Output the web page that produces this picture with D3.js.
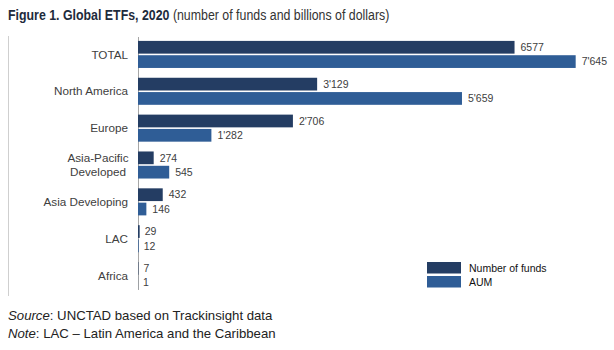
<!DOCTYPE html>
<html><head><meta charset="utf-8">
<script src="https://cdn.jsdelivr.net/npm/d3@7"></script>
<style>body{margin:0;background:#fff}svg{display:block}</style>
</head><body><svg id="c" width="614" height="350"></svg>
<script>
const categories = ["TOTAL","North America","Europe","Asia-Pacific Developed","Asia Developing","LAC","Africa"];
const fundsValues = [6577,3129,2706,274,432,29,7];
const aumValues = [7645,5659,1282,545,146,12,1];
const fundsLabels = ["6577","3'129","2'706","274","432","29","7"];
const aumLabels = ["7'645","5'659","1'282","545","146","12","1"];
const seriesNames = ["Number of funds","AUM"];
const colors = ["#243d63","#2f5d96"];

const svg = d3.select("#c");
const font = "'Liberation Sans', Arial, sans-serif";
const narrow = "'Liberation Sans Narrow','Arial Narrow','Liberation Sans',Arial,sans-serif";

// title (horizontally condensed to mimic a narrow face)
const title = svg.append("text").attr("transform","translate(8,20) scale(0.853,1)")
  .attr("font-family",narrow).attr("font-size",14.5);
title.append("tspan").attr("font-weight","bold").attr("fill","#1e2b3c").text("Figure 1. Global ETFs, 2020");
title.append("tspan").attr("fill","#333").text(" (number of funds and billions of dollars)");

// frame left line
svg.append("line").attr("x1",8.5).attr("x2",8.5).attr("y1",36).attr("y2",296).attr("stroke","#cfcfcf").attr("stroke-width",1);

const x = d3.scaleLinear().domain([0,8000]).range([138,596]);
const y0 = d3.scaleBand().domain(categories).range([36,294]).paddingInner(0.266).paddingOuter(0.133);
const y1 = d3.scaleBand().domain(seriesNames).range([0,y0.bandwidth()]).paddingInner(0.11);

const data = categories.map((c,i)=>({cat:c, vals:[
  {s:seriesNames[0], v:fundsValues[i], lab:fundsLabels[i], col:colors[0]},
  {s:seriesNames[1], v:aumValues[i], lab:aumLabels[i], col:colors[1]}]}));

// axis line
svg.append("line").attr("x1",138.5).attr("x2",138.5).attr("y1",37).attr("y2",290).attr("stroke","#a6a6a6").attr("stroke-width",1);

const g = svg.selectAll("g.grp").data(data).join("g").attr("class","grp")
  .attr("transform",d=>`translate(0,${y0(d.cat)})`);
g.selectAll("rect").data(d=>d.vals).join("rect")
  .attr("x",x(0)).attr("y",d=>y1(d.s)).attr("width",d=>Math.max(0,x(d.v)-x(0))).attr("height",y1.bandwidth())
  .attr("fill",d=>d.col);
g.selectAll("text.val").data(d=>d.vals).join("text").attr("class","val")
  .attr("x",d=>x(d.v)+(d.v<50?5:6)).attr("y",d=>y1(d.s)+y1.bandwidth()/2).attr("dy","0.36em")
  .attr("font-family",font).attr("font-size",10.5).attr("fill","#404040").text(d=>d.lab);

// category labels
categories.forEach(c=>{
  const cy = y0(c)+y0.bandwidth()/2;
  if(c==="Asia-Pacific Developed"){
    const t = svg.append("text").attr("x",98).attr("text-anchor","middle").attr("font-family",font).attr("font-size",11.7).attr("fill","#404040");
    t.append("tspan").attr("x",98).attr("y",cy-7+4).text("Asia-Pacific");
    t.append("tspan").attr("x",98).attr("y",cy+7+4).text("Developed");
  } else {
    svg.append("text").attr("x",128).attr("y",cy).attr("dy","0.36em").attr("text-anchor","end")
      .attr("font-family",font).attr("font-size",11.7).attr("fill","#404040").text(c);
  }
});

// legend
const leg = svg.append("g");
seriesNames.forEach((s,i)=>{
  leg.append("rect").attr("x",427).attr("y",262+i*14).attr("width",34).attr("height",11.5).attr("fill",colors[i]);
  leg.append("text").attr("x",469).attr("y",268+i*14).attr("dy","0.36em").attr("font-family",font)
    .attr("font-size",10.5).attr("fill","#111").text(s);
});

// footnotes
const s1 = svg.append("text").attr("x",8).attr("y",320).attr("font-family",font).attr("font-size",13.2).attr("fill","#222");
s1.append("tspan").attr("font-style","italic").text("Source");
s1.append("tspan").text(": UNCTAD based on Trackinsight data");
const s2 = svg.append("text").attr("x",8).attr("y",338).attr("font-family",font).attr("font-size",13.2).attr("fill","#222");
s2.append("tspan").attr("font-style","italic").text("Note");
s2.append("tspan").text(": LAC \u2013 Latin America and the Caribbean");
</script></body></html>
